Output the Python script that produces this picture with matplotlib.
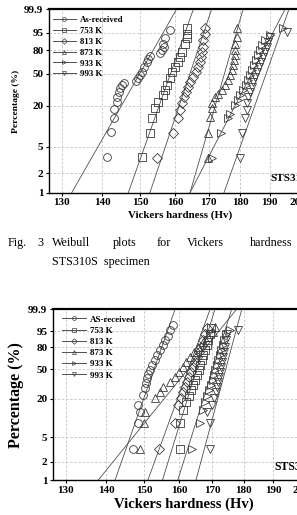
import numpy as np
import matplotlib
matplotlib.use('Agg')
import matplotlib.pyplot as plt
from matplotlib.ticker import NullLocator, FixedLocator, FixedFormatter
from matplotlib.lines import Line2D

plt.rcParams['font.family'] = ['Liberation Serif', 'DejaVu Serif']

labels_top = ['As-received', '753 K', '813 K', '873 K', '933 K', '993 K']
labels_bot = ['AS-received', '753 K', '813 K', '873 K', '933 K', '993 K']
markers = ['o', 's', 'D', '^', '>', 'v']

xticks = [130, 140, 150, 160, 170, 180, 190, 200]
yticks = [1, 2, 5, 20, 50, 80, 95, 99.9]
ytick_labels = ['1', '2', '5', '20', '50', '80', '95', '99.9']

# ---------------- STS310S (top) ----------------
t_asrec_hv = [141.1, 142.3, 142.9, 143.1, 143.7, 143.8, 144.2, 144.6, 145.2, 145.7, 148.8, 149.5, 150.0, 150.5, 151.1, 151.9, 152.3, 152.7, 155.5, 156.1, 156.8, 156.4, 157.0, 158.4]
t_asrec_pct = [3.5, 8.4, 13.2, 18.0, 22.7, 26.0, 30.0, 34.0, 37.0, 39.5, 42.0, 45.0, 49.0, 52.5, 58.5, 65.5, 69.0, 73.5, 77.0, 80.0, 84.0, 87.0, 91.5, 96.3]
t_753_hv = [150.6, 152.7, 153.3, 154.1, 154.9, 156.4, 157.0, 157.5, 158.4, 159.0, 159.8, 160.7, 161.3, 161.9, 162.8, 163.3, 163.3, 163.4]
t_753_pct = [3.5, 8.2, 13.2, 18.3, 22.5, 28.0, 32.3, 37.5, 45.0, 52.5, 58.5, 65.5, 71.5, 77.5, 87.0, 91.5, 94.5, 97.0]
t_813_hv = [154.6, 159.3, 160.7, 161.3, 161.8, 162.5, 163.1, 163.7, 164.3, 165.2, 166.1, 166.7, 167.3, 167.6, 167.9, 168.2, 168.2, 168.8, 168.8]
t_813_pct = [3.4, 8.2, 13.2, 17.4, 22.0, 26.5, 30.5, 35.5, 40.5, 46.0, 52.5, 58.5, 65.5, 71.5, 77.5, 84.0, 90.0, 94.5, 97.0]
t_873_hv = [169.8, 169.8, 170.4, 170.9, 170.9, 171.9, 172.9, 174.1, 175.1, 176.0, 176.7, 177.3, 177.7, 178.0, 178.3, 178.3, 178.3, 178.9, 178.9]
t_873_pct = [3.4, 8.2, 13.7, 18.3, 22.0, 26.5, 29.0, 32.3, 37.0, 42.7, 49.0, 55.0, 61.5, 68.0, 74.0, 80.0, 87.0, 92.5, 97.0]
t_933_hv = [170.9, 173.9, 176.0, 176.7, 178.3, 179.3, 180.0, 181.0, 182.0, 182.6, 183.3, 184.0, 184.6, 185.3, 186.0, 186.7, 187.4, 188.4, 190.1, 194.6]
t_933_pct = [3.4, 8.2, 13.2, 15.5, 20.5, 23.9, 28.0, 32.3, 37.0, 42.7, 49.0, 55.0, 61.5, 68.0, 74.0, 80.0, 85.5, 90.0, 93.5, 97.0]
t_993_hv = [180.0, 180.6, 181.7, 182.2, 182.2, 182.6, 183.3, 184.0, 184.3, 185.0, 185.7, 186.3, 187.0, 187.7, 188.4, 189.1, 189.4, 190.1, 196.2]
t_993_pct = [3.4, 8.2, 13.2, 17.4, 22.0, 26.5, 30.5, 35.5, 40.5, 46.0, 52.5, 58.5, 65.5, 71.5, 77.5, 83.0, 88.5, 92.5, 95.5]
# fitted lines: hardness at 1 % and at 99.9 %
t_fit_lo = [132.4, 146.8, 152.7, 164.3, 164.3, 174.8]
t_fit_hi = [160.3, 165.3, 170.9, 181.0, 195.4, 196.8]

# ---------------- STS316L (bottom) ----------------
b_asrec_hv = [147.1, 148.4, 148.9, 148.4, 149.7, 150.3, 150.6, 150.8, 151.1, 151.7, 152.2, 153.1, 153.7, 154.5, 155.4, 156.0, 156.8, 157.3, 158.2]
b_asrec_pct = [3.2, 8.5, 12.9, 16.4, 23.0, 29.0, 34.0, 39.3, 44.0, 49.2, 56.0, 62.9, 70.0, 76.7, 82.5, 88.2, 92.0, 95.6, 97.8]
b_753_hv = [160.2, 160.2, 161.1, 162.0, 162.9, 163.5, 164.1, 164.7, 165.3, 165.9, 166.2, 166.8, 167.2, 167.8, 168.5, 168.8, 169.3, 169.6]
b_753_pct = [3.2, 8.5, 13.6, 18.0, 22.5, 27.0, 32.0, 37.0, 42.5, 49.2, 56.0, 62.9, 70.0, 76.7, 82.5, 88.2, 93.0, 96.5]
b_813_hv = [154.3, 158.8, 159.6, 160.5, 161.1, 161.6, 162.2, 162.9, 163.5, 164.1, 164.7, 165.3, 165.9, 166.5, 167.2, 167.8, 168.5]
b_813_pct = [3.2, 8.5, 16.4, 20.5, 25.0, 30.0, 35.0, 40.5, 46.5, 53.5, 60.0, 67.0, 74.0, 81.0, 88.2, 93.0, 96.5]
b_873_hv = [148.9, 149.9, 150.3, 153.1, 154.5, 155.4, 157.3, 158.8, 160.0, 161.1, 162.0, 163.2, 164.4, 165.6, 167.2, 168.8, 170.3, 170.9]
b_873_pct = [3.2, 8.5, 12.9, 20.5, 25.0, 30.0, 35.0, 40.5, 46.5, 53.5, 60.0, 67.0, 74.0, 80.0, 86.0, 91.0, 94.5, 97.0]
b_933_hv = [163.9, 166.2, 167.2, 167.8, 168.5, 169.0, 169.6, 170.3, 170.6, 170.9, 171.5, 171.8, 172.4, 172.8, 173.4, 173.7, 174.3, 175.6]
b_933_pct = [3.2, 8.5, 13.6, 18.0, 22.5, 27.0, 32.0, 37.0, 42.5, 49.2, 56.0, 62.9, 70.0, 76.7, 82.5, 88.2, 93.0, 95.6]
b_993_hv = [169.3, 169.3, 168.3, 169.9, 170.6, 171.2, 171.5, 171.8, 172.1, 172.4, 172.8, 173.1, 173.4, 173.7, 174.1, 174.4, 174.7, 178.2]
b_993_pct = [3.2, 8.5, 12.9, 16.4, 20.5, 25.0, 30.0, 35.0, 40.5, 46.5, 53.5, 60.0, 67.0, 74.0, 81.0, 88.2, 93.0, 95.6]
b_fit_lo = [142.3, 155.2, 151.1, 138.0, 159.6, 165.0]
b_fit_hi = [158.8, 170.8, 169.3, 177.7, 176.1, 179.4]

top_hv = [t_asrec_hv, t_753_hv, t_813_hv, t_873_hv, t_933_hv, t_993_hv]
top_pct = [t_asrec_pct, t_753_pct, t_813_pct, t_873_pct, t_933_pct, t_993_pct]
bot_hv = [b_asrec_hv, b_753_hv, b_813_hv, b_873_hv, b_933_hv, b_993_hv]
bot_pct = [b_asrec_pct, b_753_pct, b_813_pct, b_873_pct, b_933_pct, b_993_pct]


def fwd(p):
    p = np.clip(np.asarray(p, dtype=float), 1e-6, 99.999999)
    return np.log(-np.log(1.0 - p / 100.0))


def inv(w):
    w = np.asarray(w, dtype=float)
    return 100.0 * (1.0 - np.exp(-np.exp(w)))


W, H = 297, 515
fig = plt.figure(figsize=(W / 100, H / 100), dpi=100)

EC = '#3a3a3a'
LC = '#505050'


def make_axes(rect, hv_list, pct_list, lo, hi, labels, tick_fs, lab_fs_x, lab_fs_y,
              leg_anchor, leg_fs, tag, tag_fs):
    ax = fig.add_axes(rect)
    ax.set_xscale('log')
    ax.set_yscale('function', functions=(fwd, inv))
    ax.set_xlim(127, 205)
    ax.set_ylim(1, 99.9)
    ax.xaxis.set_major_locator(FixedLocator(xticks))
    ax.xaxis.set_major_formatter(FixedFormatter([str(v) for v in xticks]))
    ax.xaxis.set_minor_locator(NullLocator())
    ax.yaxis.set_major_locator(FixedLocator(yticks))
    ax.yaxis.set_major_formatter(FixedFormatter(ytick_labels))
    ax.yaxis.set_minor_locator(NullLocator())
    ax.grid(True, which='major', color='#c4c4c4', linestyle=(0, (3, 2)), linewidth=0.6)
    ax.set_axisbelow(True)
    ax.tick_params(direction='out', length=2.5, width=0.8, pad=1.5, labelsize=tick_fs)
    for lab in ax.get_xticklabels() + ax.get_yticklabels():
        lab.set_fontweight('bold')
    for s in ax.spines.values():
        s.set_linewidth(1.0)
    ax.spines['top'].set_linewidth(1.6)

    for i in range(6):
        ax.plot([lo[i], hi[i]], [1, 99.9], color=LC, lw=0.6, zorder=2)
        ax.plot(hv_list[i], pct_list[i], linestyle='none', marker=markers[i],
                markersize=5.6 if markers[i] != 'D' else 4.6, markerfacecolor='none',
                markeredgecolor=EC, markeredgewidth=0.6, zorder=3)

    handles = [Line2D([0], [0], color=LC, lw=0.7, marker=m, markersize=2.8,
                      markerfacecolor='none', markeredgecolor=EC, markeredgewidth=0.5)
               for m in markers]
    leg = ax.legend(handles, labels, loc='upper left', bbox_to_anchor=leg_anchor,
                    frameon=False, borderpad=0, borderaxespad=0, handlelength=2.6,
                    handletextpad=0.45, labelspacing=0.32,
                    prop={'weight': 'bold', 'size': leg_fs})
    ax.text(0.845, 0.075, tag, transform=ax.transAxes, fontsize=tag_fs,
            fontweight='bold', ha='left', va='center', clip_on=False)
    ax.set_xlabel('Vickers hardness (Hv)', fontsize=lab_fs_x, fontweight='bold', labelpad=2)
    ax.set_ylabel('Percentage (%)', fontsize=lab_fs_y, fontweight='bold', labelpad=3)
    return ax


ax1 = make_axes([48.9 / W, 1 - 192.7 / H, 262.4 / W, 183.4 / H], top_hv, top_pct,
                t_fit_lo, t_fit_hi, labels_top, 8, 7.8, 6.8, (0.016, 0.965), 6.3,
                'STS310S', 8)
ax2 = make_axes([52.9 / W, 1 - 480 / H, 261.8 / W, 170.7 / H], bot_hv, bot_pct,
                b_fit_lo, b_fit_hi, labels_bot, 8, 10.5, 11.5, (0.035, 0.965), 6.5,
                'STS316L', 8.5)

# caption, spread like the justified line of the original
cap_words = ['Fig.', '3', 'Weibull', 'plots', 'for', 'Vickers', 'hardness']
cap_x = [8, 37, 52, 113, 157, 187, 250]
for w, x in zip(cap_words, cap_x):
    fig.text(x / W, 1 - 243 / H, w, fontsize=8.7, ha='left', va='center')
fig.text(52 / W, 1 - 262 / H, 'STS310S  specimen', fontsize=8.7, ha='left', va='center')

fig.savefig('out.png', dpi=100)
